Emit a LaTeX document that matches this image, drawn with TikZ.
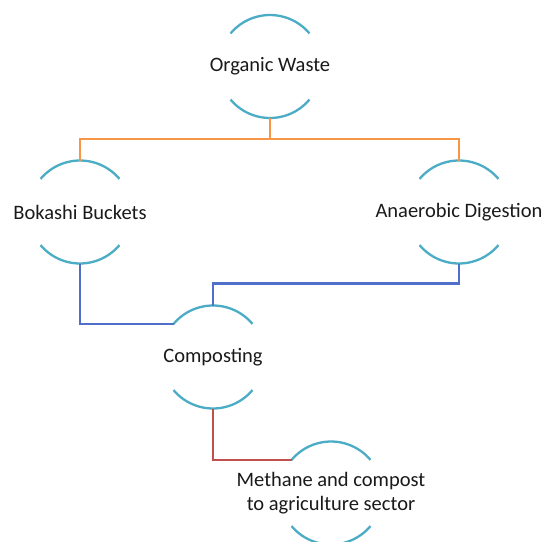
\documentclass[tikz,border=0pt]{standalone}
\usepackage{fontspec}
\setmainfont{Carlito}
\usetikzlibrary{calc}
\definecolor{arcblue}{HTML}{4BACC6}
\definecolor{lineorange}{HTML}{F79646}
\definecolor{lineblue}{HTML}{4F6FCB}
\definecolor{linered}{HTML}{C0504D}
\definecolor{txt}{HTML}{1A1A1A}
\def\bubr{51.5pt}
\tikzset{
  lbl/.style={inner sep=0pt, text=txt, font=\fontsize{20.5}{24.5}\selectfont, align=center},
  arcline/.style={draw=arcblue, line width=2.3pt},
  orl/.style={draw=lineorange, line width=2.2pt},
  bll/.style={draw=lineblue, line width=2.2pt},
  rdl/.style={draw=linered, line width=2.2pt}
}
\begin{document}
\begin{tikzpicture}[x=1pt,y=-1pt]
\clip (0,0) rectangle (551,541);
\fill[white] (0,0) rectangle (551,541);
\node[lbl] (ow) at (270,66.5) {Organic Waste};
\node[lbl] (bb) at (80,212) {Bokashi Buckets};
\node[lbl] (ad) at (459,212) {Anaerobic Digestion};
\node[lbl] (cp) at (213,357) {Composting};
\node[lbl] (mc) at (331,493) {Methane and compost\\to agriculture sector};
\foreach \n in {ow,bb,ad,cp,mc} {
  \draw[arcline] ([shift={(40:\bubr)}]\n.center) arc[start angle=40,end angle=140,radius=\bubr];
  \draw[arcline] ([shift={(220:\bubr)}]\n.center) arc[start angle=220,end angle=320,radius=\bubr];
  \coordinate (\n-t) at ([yshift=\bubr]\n.center);
  \coordinate (\n-b) at ([yshift=-\bubr]\n.center);
  \coordinate (\n-l) at ([shift={(140:\bubr)}]\n.center);
}
\coordinate (oj) at ([yshift=-21pt]ow-b);
\coordinate (aj) at ([yshift=-20pt]ad-b);
\draw[orl] (ow-b) -- (oj) -| (bb-t);
\draw[orl] (oj) -| (ad-t);
\draw[bll] (bb-b) |- (cp-l);
\draw[bll] (ad-b) -- (aj) -| (cp-t);
\draw[rdl] (cp-b) |- (mc-l);
\end{tikzpicture}
\end{document}
